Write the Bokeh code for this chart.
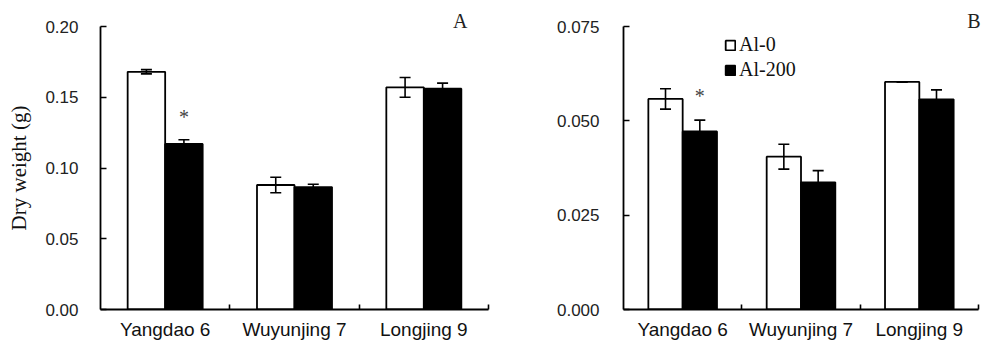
import numpy as np
from bokeh.plotting import figure
from bokeh.layouts import row
from bokeh.models import (ColumnDataSource, Range1d, FixedTicker, Whisker, TeeHead,
                          Title, Legend, LegendItem, PrintfTickFormatter)
from bokeh.core.properties import value
from bokeh.embed import file_html
from bokeh.resources import INLINE

# ---------------- data ----------------
categories = ["Yangdao 6", "Wuyunjing 7", "Longjing 9"]
series = ["Al-0", "Al-200"]

a_al0 = [0.168, 0.088, 0.157]
a_al0_err = [0.0015, 0.0055, 0.007]
a_al200 = [0.117, 0.0865, 0.156]
a_al200_err = [0.003, 0.002, 0.004]
a_sig_al200 = ["*", "", ""]

b_al0 = [0.0558, 0.0405, 0.0603]
b_al0_err = [0.0027, 0.0033, 0.0]
b_al200 = [0.0472, 0.0337, 0.0557]
b_al200_err = [0.003, 0.0031, 0.0025]
b_sig_al200 = ["*", "", ""]

a_yticks = [0.0, 0.05, 0.10, 0.15, 0.20]
b_yticks = [0.0, 0.025, 0.050, 0.075]

SANS = "Liberation Sans"
SERIF = "Liberation Serif"
BAR_W = 0.29


def panel(al0, al0_err, al200, al200_err, sig, yticks, fmt, width, borders,
          panel_tag, ylabel=None, legend=False, tag_off=20, tag_std=-10, tick_std=22,
          star_off=-23):
    ymax = yticks[-1]
    p = figure(width=width, height=352, x_range=Range1d(0, 3), y_range=Range1d(0, ymax),
               output_backend="svg", toolbar_location=None,
               min_border_left=borders[0], min_border_right=borders[1],
               min_border_top=borders[2], min_border_bottom=borders[3])
    p.outline_line_color = None
    p.xgrid.visible = False
    p.ygrid.visible = False
    p.background_fill_color = "white"
    p.border_fill_color = "white"

    centers = np.arange(len(categories)) + 0.5
    x0 = centers - BAR_W / 2
    x1 = centers + BAR_W / 2
    s0 = ColumnDataSource(dict(x=x0, top=al0, lo=np.array(al0) - np.array(al0_err),
                               hi=np.array(al0) + np.array(al0_err)))
    s1 = ColumnDataSource(dict(x=x1, top=al200, lo=np.array(al200) - np.array(al200_err),
                               hi=np.array(al200) + np.array(al200_err), sig=sig))
    r0 = p.vbar(x="x", top="top", bottom=0, width=BAR_W, source=s0,
                fill_color="white", line_color="black", line_width=1.8)
    r1 = p.vbar(x="x", top="top", bottom=0, width=BAR_W, source=s1,
                fill_color="black", line_color="black", line_width=1.8)
    for s in (s0, s1):
        w = Whisker(base="x", upper="hi", lower="lo", source=s, level="overlay",
                    line_color="black", line_width=1.6,
                    upper_head=TeeHead(size=11, line_width=1.6, line_color="black"),
                    lower_head=TeeHead(size=11, line_width=1.6, line_color="black"))
        p.add_layout(w)
    p.text(x="x", y="hi", text="sig", source=s1, text_font=value(SERIF),
           text_font_size="20px", text_align="center", text_baseline="alphabetic",
           y_offset=star_off, text_color="#444444")

    # x axis
    xa = p.xaxis[0]
    xa.ticker = FixedTicker(ticks=list(centers), minor_ticks=[1, 2, 3])
    xa.major_label_overrides = {float(c): n for c, n in zip(centers, categories)}
    xa.major_tick_in = 0
    xa.major_tick_out = 0
    xa.minor_tick_in = 5
    xa.minor_tick_out = 0
    xa.minor_tick_line_width = 1.6
    xa.axis_line_width = 1.8
    xa.major_label_text_font = SANS
    xa.major_label_text_font_size = "19px"
    xa.major_label_text_color = "#111111"
    xa.major_label_standoff = 9

    # y axis
    ya = p.yaxis[0]
    ya.ticker = FixedTicker(ticks=yticks, minor_ticks=[])
    ya.formatter = PrintfTickFormatter(format=fmt)
    ya.major_tick_in = 6
    ya.major_tick_out = 0
    ya.major_tick_line_width = 1.6
    ya.axis_line_width = 1.8
    ya.major_label_text_font = SANS
    ya.major_label_text_font_size = "17px"
    ya.major_label_text_color = "#222222"
    ya.major_label_standoff = tick_std
    if ylabel:
        ya.axis_label = ylabel
        ya.axis_label_text_font = SERIF
        ya.axis_label_text_font_style = "normal"
        ya.axis_label_text_font_size = "21px"
        ya.axis_label_text_color = "#111111"
        ya.axis_label_standoff = 11

    p.add_layout(Title(text=panel_tag, align="right", offset=tag_off, standoff=tag_std,
                       text_font=SERIF, text_font_size="20px", text_font_style="normal",
                       text_color="#222222"), "above")

    if legend:
        lg = Legend(items=[LegendItem(label=series[0], renderers=[r0]),
                           LegendItem(label=series[1], renderers=[r1])],
                    location=(101, 228), orientation="vertical",
                    label_text_font=SERIF, label_text_font_size="20px",
                    label_text_color="#111111",
                    glyph_width=12, glyph_height=12, label_standoff=3,
                    label_height=22, spacing=2, padding=0, margin=0,
                    border_line_alpha=0, background_fill_alpha=0)
        p.add_layout(lg, "center")
    return p


pA = panel(a_al0, a_al0_err, a_al200, a_al200_err, a_sig_al200, a_yticks, "%.2f",
           500, (100, 12, 23, 42), "A", ylabel="Dry weight (g)",
           tag_off=21, tag_std=-11, tick_std=22, star_off=-23)
pB = panel(b_al0, b_al0_err, b_al200, b_al200_err, b_sig_al200, b_yticks, "%.3f",
           494, (123, 16, 26, 43), "B", legend=True,
           tag_off=-2, tag_std=-11, tick_std=24, star_off=-24)

layout = row(pA, pB)
open("out.html", "w").write(file_html(layout, INLINE))
